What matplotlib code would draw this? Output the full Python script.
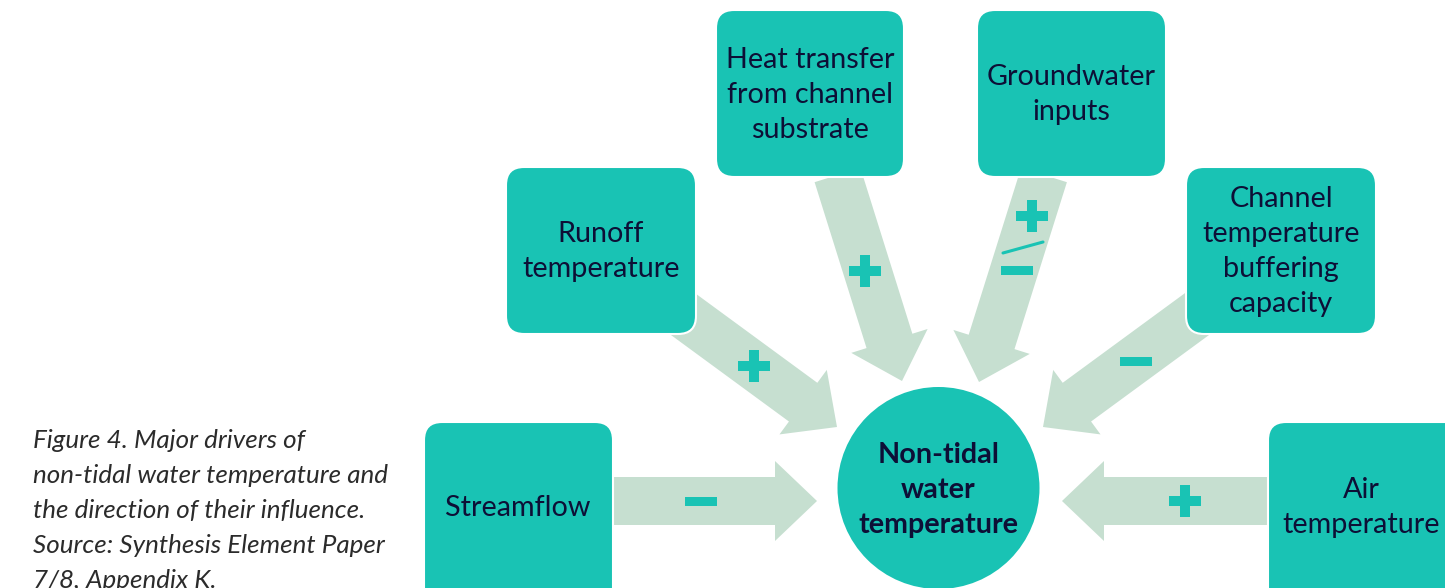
import matplotlib
matplotlib.use("Agg")
import matplotlib.pyplot as plt
from matplotlib.patches import FancyBboxPatch, FancyArrow, Circle, Rectangle

# ---------------- data ----------------
driver_labels = ["Streamflow", "Runoff\ntemperature", "Heat transfer\nfrom channel\nsubstrate",
                 "Groundwater\ninputs", "Channel\ntemperature\nbuffering\ncapacity", "Air\ntemperature"]
driver_influence = ["-", "+", "+", "+/-", "-", "+"]
center_label = "Non-tidal\nwater\ntemperature"
caption_lines = ["Figure 4. Major drivers of", "non-tidal water temperature and",
                 "the direction of their influence.", "Source: Synthesis Element Paper",
                 "7/8, Appendix K."]

# ---------------- layout (pixel coords, y down) ----------------
box_x0 = [424, 506, 716, 977, 1186, 1268]
box_y0 = [422, 167, 10, 10, 167, 422]
box_w = [189, 190, 188, 189, 190, 195]
box_h = [200, 167, 167, 167, 167, 200]
text_x = [518, 601, 810, 1071.5, 1281, 1361]
text_first_baseline = [516, 242, 68, 85, 207, 498]
arrow_tail = [(600, 501), (672, 306), (837.5, 175), (1044, 175), (1208, 306), (1280, 501)]
arrow_tip = [(817, 501), (837, 427), (902, 381), (979, 382), (1043, 427), (1062, 501)]
sign_xy = [(701, 501), (754, 366), (865, 271), (1032, 216), (1136, 361), (1185, 501)]
circle_center = (938.5, 488)
circle_r = 101

TEAL = "#19C3B4"
ARROW = "#C6DFD0"
NAVY = "#0D0F36"
LINE = 35

fig = plt.figure(figsize=(14.45, 5.88), dpi=100)
ax = fig.add_axes([0, 0, 1, 1])
ax.set_xlim(0, 1445)
ax.set_ylim(588, 0)
ax.axis("off")

def draw_plus(cx, cy, s=32, t=10):
    ax.add_patch(Rectangle((cx - s / 2, cy - t / 2), s, t, color=TEAL, lw=0, zorder=4))
    ax.add_patch(Rectangle((cx - t / 2, cy - s / 2), t, s, color=TEAL, lw=0, zorder=4))

def draw_minus(cx, cy, s=32, t=9):
    ax.add_patch(Rectangle((cx - s / 2, cy - t / 2), s, t, color=TEAL, lw=0, zorder=4))

# arrows
for (tx, ty), (hx, hy) in zip(arrow_tail, arrow_tip):
    ax.add_patch(FancyArrow(tx, ty, hx - tx, hy - ty, width=48, head_width=80, head_length=42,
                            length_includes_head=True, color=ARROW, lw=0, zorder=1))

# signs
for sgn, (sx, sy) in zip(driver_influence, sign_xy):
    if sgn == "+":
        draw_plus(sx, sy)
    elif sgn == "-":
        draw_minus(sx, sy)
    else:
        draw_plus(sx, sy)
        ax.plot([sx - 29, sx + 11], [sy + 37, sy + 26], color=TEAL, lw=2.2, zorder=4,
                solid_capstyle="round")
        draw_minus(sx - 15, sy + 54)

# boxes
for x0, y0, w, h, lab, tx, tb in zip(box_x0, box_y0, box_w, box_h, driver_labels,
                                     text_x, text_first_baseline):
    ax.add_patch(FancyBboxPatch((x0, y0), w, h, boxstyle="round,pad=0,rounding_size=18",
                                facecolor=TEAL, edgecolor="white", lw=1.5, zorder=2))
    for i, line in enumerate(lab.split("\n")):
        ax.text(tx, tb + i * LINE, line, ha="center", va="baseline", fontsize=20.7,
                family="Lato", color=NAVY, zorder=5)

# centre circle
ax.add_patch(Circle(circle_center, circle_r, facecolor=TEAL, edgecolor="none", zorder=2))
for i, line in enumerate(center_label.split("\n")):
    ax.text(circle_center[0], 463 + i * LINE, line, ha="center", va="baseline", fontsize=20.7,
            family="Lato", fontweight="bold", color=NAVY, zorder=5)

# caption
for i, line in enumerate(caption_lines):
    ax.text(33, 448 + i * LINE, line, ha="left", va="baseline", fontsize=18.7,
            family="Lato", style="italic", color="#2B2B2B", zorder=5)

fig.savefig("out.png", dpi=100)
